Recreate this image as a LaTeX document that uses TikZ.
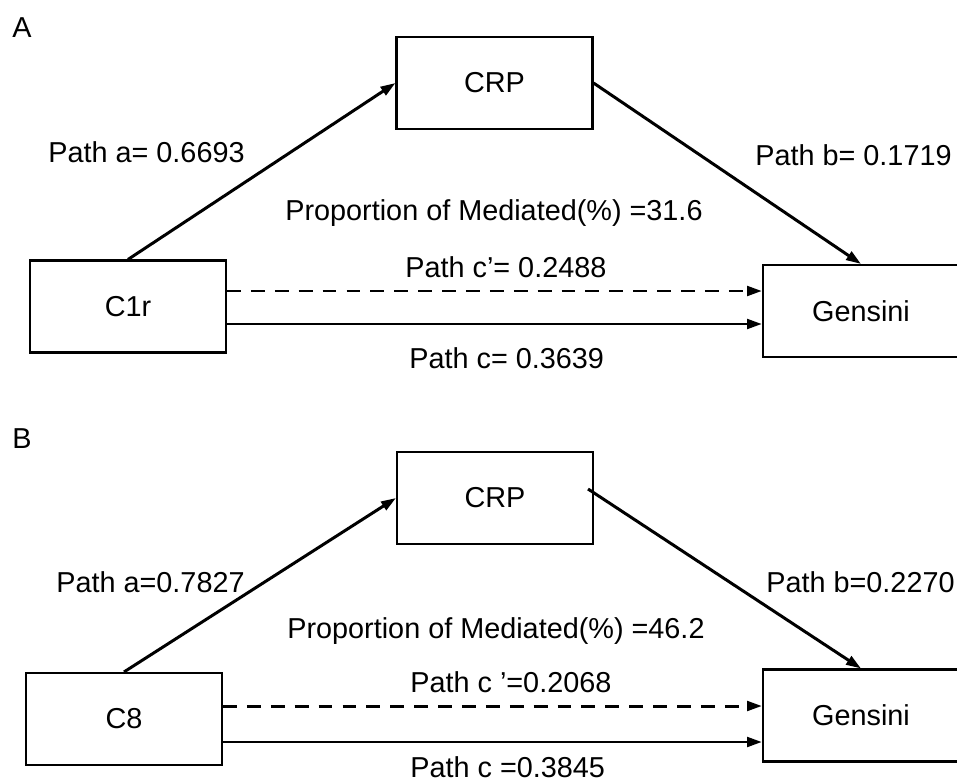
\documentclass[tikz,border=0pt]{standalone}
\usepackage{fontspec}
\setmainfont{Liberation Sans}
\usetikzlibrary{arrows.meta}

\begin{document}
\begin{tikzpicture}[x=0.02cm, y=-0.02cm, font=\fontsize{16.4}{19}\selectfont,
  box/.style={draw, line width=1.2pt, minimum width=3.92cm, minimum height=1.84cm, inner sep=0pt},
  lab/.style={anchor=base west, inner sep=0pt},
  arr/.style={line width=1.7pt, -{Triangle[length=8.5pt,width=5.5pt]}},
  dsh/.style={arr, dash pattern=on 7.9pt off 5.7pt}]
\useasboundingbox (0,0) rectangle (957,781);

% panel A
\node[lab] (pa) at (12,37) {A};
\node[box] (m1) at (494.5,83) {CRP};
\node[box] (x1) at (128,306.5) {C1r};
\node[box] (y1) at (861,311) {Gensini};

\node[lab] (la1) at (48,162) {Path a= 0.6693};
\node[lab] (lb1) at (755,165) {Path b= 0.1719};
\node[lab] (lp1) at (285,220) {Proportion of Mediated(\%) =31.6};
\node[lab] (ld1) at (405,277) {Path c’= 0.2488};
\node[lab] (lc1) at (409,368) {Path c= 0.3639};

\coordinate (d1) at ([yshift=0.31cm]x1.east);
\coordinate (c1) at ([yshift=-0.35cm]x1.east);
\draw[arr] (x1.north) to (m1.west);
\draw[arr] (m1.east) to (y1.north);
\draw[dsh] (d1) to (d1 -| y1.west);
\draw[arr] (c1) to (c1 -| y1.west);

% panel B
\node[lab] (pb) at (12,448) {B};
\node[box] (m2) at (495,498) {CRP};
\node[box] (x2) at (124,719) {C8};
\node[box] (y2) at (861,715.5) {Gensini};

\node[lab] (la2) at (56,592) {Path a=0.7827};
\node[lab] (lb2) at (766,592) {Path b=0.2270};
\node[lab] (lp2) at (287,638) {Proportion of Mediated(\%) =46.2};
\node[lab] (ld2) at (410,692) {Path c ’=0.2068};
\node[lab] (lc2) at (410,777) {Path c =0.3845};

\coordinate (d2) at ([yshift=0.26cm]x2.east);
\coordinate (c2) at ([yshift=-0.46cm]x2.east);
\draw[arr] (x2.north) to (m2.west);
\draw[arr] ([shift={(-6,-9)}]m2.east) to (y2.north);
\draw[dsh] (d2) to (d2 -| y2.west);
\draw[arr] (c2) to (c2 -| y2.west);
\end{tikzpicture}
\end{document}
